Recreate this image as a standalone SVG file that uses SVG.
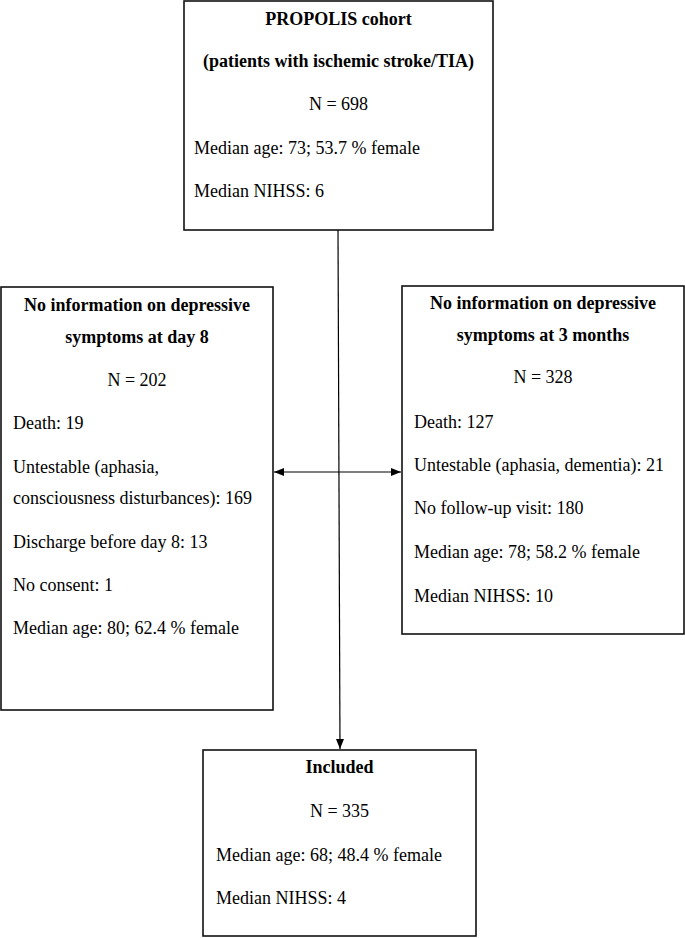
<svg xmlns="http://www.w3.org/2000/svg" width="685" height="938" viewBox="0 0 685 938">
  <defs>
    <marker id="arr" viewBox="0 0 10 8" refX="10" refY="4" markerWidth="10" markerHeight="8" markerUnits="userSpaceOnUse" orient="auto-start-reverse">
      <path d="M0,0 L10,4 L0,8 Z" fill="#000"/>
    </marker>
  </defs>
  <style>
    .box { fill: #fff; stroke: #111; stroke-width: 1.6; }
    text { font-size: 18px; fill: #000; }
    .b { font-weight: bold; }
    .c { text-anchor: middle; }
    .conn { stroke: #000; stroke-width: 1.2; fill: none; }
  </style>
  <rect x="0" y="0" width="685" height="938" fill="#fff"/>

  <g id="connectors">
    <line class="conn" x1="338" y1="230" x2="340" y2="749" marker-end="url(#arr)"/>
    <line class="conn" x1="274" y1="472" x2="401" y2="472" marker-start="url(#arr)" marker-end="url(#arr)"/>
  </g>

  <g font-family="Liberation Serif, Tinos, Times New Roman, serif">
  <g id="cohort">
    <rect class="box" x="184" y="1" width="309" height="229"/>
    <text class="b c" x="338.5" y="25">PROPOLIS cohort</text>
    <text class="b c" x="338.5" y="67">(patients with ischemic stroke/TIA)</text>
    <text class="c" x="338.5" y="110">N = 698</text>
    <text x="194" y="154">Median age: 73; 53.7 % female</text>
    <text x="194" y="197">Median NIHSS: 6</text>
  </g>

  <g id="day8">
    <rect class="box" x="1" y="287" width="272" height="423"/>
    <text class="b c" x="137" y="311">No information on depressive</text>
    <text class="b c" x="137" y="343">symptoms at day 8</text>
    <text class="c" x="137" y="386">N = 202</text>
    <text x="13" y="429">Death: 19</text>
    <text x="13" y="473">Untestable (aphasia,</text>
    <text x="13" y="504">consciousness disturbances): 169</text>
    <text x="13" y="548">Discharge before day 8: 13</text>
    <text x="13" y="591">No consent: 1</text>
    <text x="13" y="634">Median age: 80; 62.4 % female</text>
  </g>

  <g id="months3">
    <rect class="box" x="402" y="286" width="282" height="348"/>
    <text class="b c" x="543" y="309">No information on depressive</text>
    <text class="b c" x="543" y="341">symptoms at 3 months</text>
    <text class="c" x="543" y="383">N = 328</text>
    <text x="414" y="428">Death: 127</text>
    <text x="414" y="471">Untestable (aphasia, dementia): 21</text>
    <text x="414" y="514">No follow-up visit: 180</text>
    <text x="414" y="558">Median age: 78; 58.2 % female</text>
    <text x="414" y="602">Median NIHSS: 10</text>
  </g>

  <g id="included">
    <rect class="box" x="203" y="750" width="273" height="186"/>
    <text class="b c" x="339.5" y="773">Included</text>
    <text class="c" x="339.5" y="817">N = 335</text>
    <text x="216" y="861">Median age: 68; 48.4 % female</text>
    <text x="216" y="904">Median NIHSS: 4</text>
  </g>
  </g>
</svg>
